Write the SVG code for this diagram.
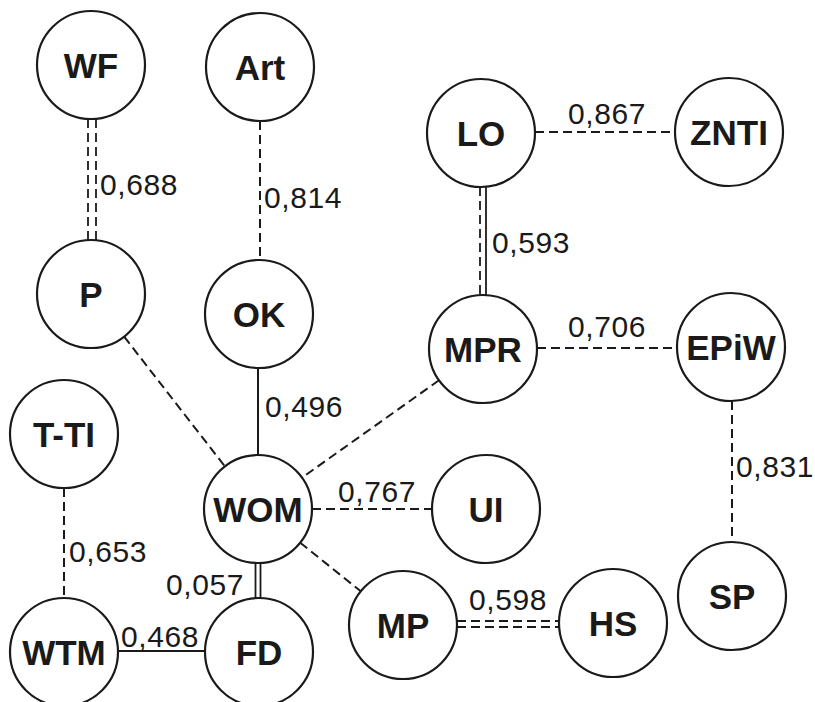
<svg xmlns="http://www.w3.org/2000/svg" width="815" height="702" viewBox="0 0 815 702">
  <style>
    .node circle { fill: #ffffff; stroke: #1a1a1a; stroke-width: 2.2; }
    .node text { font-family: "Liberation Sans", Arial, sans-serif; font-weight: bold; font-size: 35px; fill: #1a1a1a; text-anchor: middle; }
    .edge { stroke: #1a1a1a; stroke-width: 2; fill: none; }
    .dash { stroke-dasharray: 9 5; }
    .thin { stroke-width: 1.8; }
    .lbl { font-family: "Liberation Sans", Arial, sans-serif; font-size: 30px; fill: #1a1a1a; letter-spacing: 0.6px; }
  </style>
  <rect width="815" height="702" fill="#ffffff"/>

  <!-- connectors -->
  <g id="connectors">
    <!-- WF - P (double dashed) -->
    <line class="edge dash thin" x1="88" y1="119" x2="88" y2="240"/>
    <line class="edge dash thin" x1="96" y1="119" x2="96" y2="240"/>
    <!-- Art - OK -->
    <line class="edge dash" x1="260" y1="121" x2="260" y2="260"/>
    <!-- LO - ZNTI -->
    <line class="edge dash" x1="535" y1="132" x2="675" y2="132"/>
    <!-- LO - MPR (dashed + solid) -->
    <line class="edge dash thin" x1="480" y1="187" x2="480" y2="295"/>
    <line class="edge thin" x1="486" y1="187" x2="486" y2="295"/>
    <!-- MPR - EPiW -->
    <line class="edge dash" x1="537" y1="348" x2="677" y2="348"/>
    <!-- EPiW - SP -->
    <line class="edge dash" x1="732" y1="401" x2="732" y2="542"/>
    <!-- P - WOM -->
    <line class="edge dash" x1="124.1" y1="336.6" x2="224.9" y2="466.4"/>
    <!-- MPR - WOM -->
    <line class="edge dash" x1="439" y1="380.3" x2="302" y2="477.7"/>
    <!-- OK - WOM -->
    <line class="edge" x1="258" y1="368" x2="258" y2="455"/>
    <!-- WOM - UI -->
    <line class="edge dash" x1="312" y1="509" x2="432" y2="509"/>
    <!-- WOM - MP -->
    <line class="edge dash" x1="300.2" y1="542.7" x2="360.8" y2="591.3"/>
    <!-- WOM - FD (double solid) -->
    <line class="edge thin" x1="255.5" y1="563" x2="255.5" y2="598"/>
    <line class="edge thin" x1="260.5" y1="563" x2="260.5" y2="598"/>
    <!-- T-TI - WTM -->
    <line class="edge dash" x1="64" y1="488" x2="64" y2="598"/>
    <!-- WTM - FD -->
    <line class="edge" x1="118" y1="651" x2="205" y2="651"/>
    <!-- MP - HS (double dashed) -->
    <line class="edge dash thin" x1="457" y1="621" x2="559" y2="621"/>
    <line class="edge dash thin" x1="457" y1="627" x2="559" y2="627"/>

    <!-- coefficients -->
    <text class="lbl" x="100" y="195">0,688</text>
    <text class="lbl" x="264" y="208">0,814</text>
    <text class="lbl" x="568" y="124">0,867</text>
    <text class="lbl" x="492" y="253">0,593</text>
    <text class="lbl" x="568" y="337">0,706</text>
    <text class="lbl" x="265" y="417">0,496</text>
    <text class="lbl" x="338" y="502">0,767</text>
    <text class="lbl" x="736" y="477">0,831</text>
    <text class="lbl" x="69" y="562">0,653</text>
    <text class="lbl" x="166" y="595">0,057</text>
    <text class="lbl" x="121" y="647">0,468</text>
    <text class="lbl" x="469" y="610">0,598</text>
  </g>

  <!-- nodes -->
  <g id="WF" class="node"><circle cx="91" cy="65" r="54"/><text x="91" y="78">WF</text></g>
  <g id="Art" class="node"><circle cx="260" cy="67" r="54"/><text x="260" y="80">Art</text></g>
  <g id="LO" class="node"><circle cx="481" cy="133" r="54"/><text x="481" y="146">LO</text></g>
  <g id="ZNTI" class="node"><circle cx="729" cy="132" r="54"/><text x="729" y="145">ZNTI</text></g>
  <g id="P" class="node"><circle cx="91" cy="294" r="54"/><text x="91" y="307">P</text></g>
  <g id="OK" class="node"><circle cx="259" cy="314" r="54"/><text x="259" y="327">OK</text></g>
  <g id="MPR" class="node"><circle cx="483" cy="349" r="54"/><text x="483" y="362">MPR</text></g>
  <g id="EPiW" class="node"><circle cx="731" cy="347" r="54"/><text x="731" y="360">EPiW</text></g>
  <g id="T-TI" class="node"><circle cx="64" cy="434" r="54"/><text x="64" y="447">T-TI</text></g>
  <g id="WOM" class="node"><circle cx="258" cy="509" r="54"/><text x="258" y="522">WOM</text></g>
  <g id="UI" class="node"><circle cx="486" cy="509" r="54"/><text x="486" y="522">UI</text></g>
  <g id="WTM" class="node"><circle cx="64" cy="652" r="54"/><text x="64" y="665">WTM</text></g>
  <g id="FD" class="node"><circle cx="259" cy="652" r="54"/><text x="259" y="665">FD</text></g>
  <g id="MP" class="node"><circle cx="403" cy="625" r="54"/><text x="403" y="638">MP</text></g>
  <g id="HS" class="node"><circle cx="613" cy="623" r="54"/><text x="613" y="636">HS</text></g>
  <g id="SP" class="node"><circle cx="732" cy="596" r="54"/><text x="732" y="609">SP</text></g>
</svg>
